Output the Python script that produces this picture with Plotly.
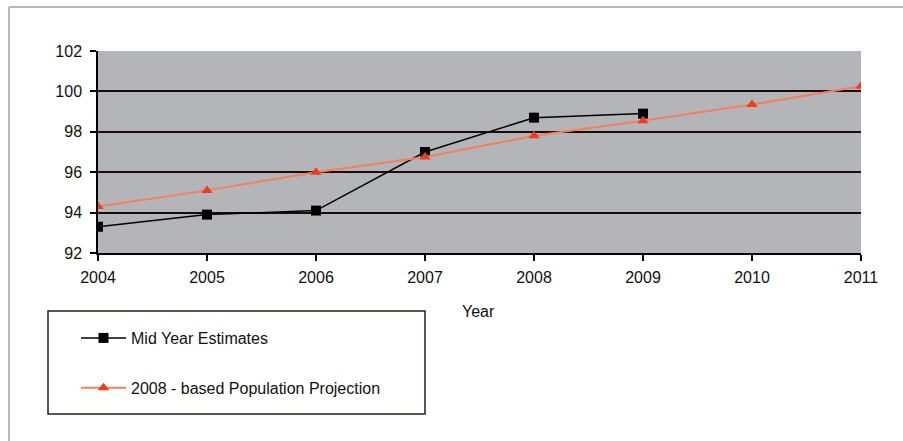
import plotly.graph_objects as go

years = [2004, 2005, 2006, 2007, 2008, 2009, 2010, 2011]
mid_year_years = [2004, 2005, 2006, 2007, 2008, 2009]
mid_year_estimates = [93.3, 93.9, 94.1, 97.0, 98.7, 98.9]
projection_values = [94.3, 95.1, 96.0, 96.75, 97.8, 98.55, 99.35, 100.25]
y_ticks = [92, 94, 96, 98, 100, 102]
x_ticks = years

W, H = 903, 441
x0, x1 = 98, 861
y0, y1 = 51, 253

fig = go.Figure()
fig.add_trace(go.Scatter(
    x=mid_year_years, y=mid_year_estimates, mode="lines+markers",
    name="Mid Year Estimates", legendgroup="a",
    line=dict(color="#000000", width=1.5),
    marker=dict(symbol="square", size=10, color="#000000"),
))
fig.add_trace(go.Scatter(
    x=years, y=projection_values, mode="lines+markers",
    name="2008 - based Population Projection", legendgroup="b",
    line=dict(color="#f4805e", width=2),
    marker=dict(symbol="triangle-up", size=10, color="#ee3d1c"),
))

font = dict(family="Liberation Sans, Arial, sans-serif", size=16, color="#111111")

fig.update_layout(
    width=W, height=H,
    margin=dict(l=0, r=0, t=0, b=0),
    paper_bgcolor="#ffffff",
    plot_bgcolor="#b4b5b9",
    font=font,
    showlegend=True,
    legend=dict(
        x=(76) / W, y=1 - 321 / H, xanchor="left", yanchor="top",
        bgcolor="rgba(0,0,0,0)", borderwidth=0, itemwidth=45,
        tracegroupgap=26, font=dict(size=16, color="#111111"),
    ),
    xaxis=dict(
        domain=[x0 / W, x1 / W], range=[2004, 2011],
        tickmode="array", tickvals=x_ticks, ticktext=[str(v) for v in x_ticks],
        showgrid=False, zeroline=False,
        showline=True, linecolor="#000000", linewidth=1.5,
        ticks="outside", ticklen=6, tickcolor="#000000", tickwidth=1.5,
        automargin=False, ticklabelstandoff=3,
    ),
    yaxis=dict(
        domain=[1 - y1 / H, 1 - y0 / H], range=[92, 102],
        tickmode="array", tickvals=y_ticks,
        showgrid=True, gridcolor="#1a0c0c", gridwidth=1.5,
        zeroline=False,
        showline=True, linecolor="#000000", linewidth=1.5,
        ticks="outside", ticklen=6, tickcolor="#000000", tickwidth=1.5,
        automargin=False, ticklabelstandoff=5,
    ),
    shapes=[
        # outer frame (top and left)
        dict(type="line", xref="paper", yref="paper", x0=9 / W, x1=1, y0=1 - 7 / H, y1=1 - 7 / H,
             line=dict(color="#a0a0a0", width=1.5)),
        dict(type="line", xref="paper", yref="paper", x0=9 / W, x1=9 / W, y0=1 - 7 / H, y1=0,
             line=dict(color="#a0a0a0", width=1.5)),
        # legend box
        dict(type="rect", xref="paper", yref="paper", x0=48 / W, x1=425 / W,
             y0=1 - 414 / H, y1=1 - 311 / H, line=dict(color="#2a1a1a", width=1.5)),
    ],
    annotations=[
        dict(text="Year", xref="paper", yref="paper", x=479 / W, y=1 - 311 / H,
             showarrow=False, xanchor="center", yanchor="middle", font=font),
    ],
)

fig.write_html("out.html")
